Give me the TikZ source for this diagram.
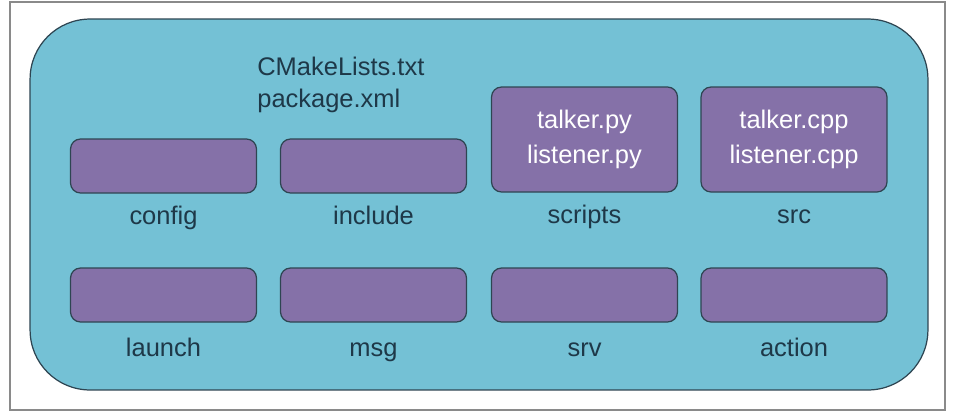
\documentclass[tikz,border=0pt]{standalone}
\usepackage{fontspec}
\setmainfont{Liberation Sans}
\usepackage{tikz}
\usetikzlibrary{positioning}
\definecolor{pkgTeal}{HTML}{74C1D5}
\definecolor{dirPurple}{HTML}{8571A8}
\definecolor{edgeDark}{HTML}{2E4552}
\definecolor{labelDark}{HTML}{1E3848}
\definecolor{frameGray}{HTML}{8A8A8A}

\begin{document}
\begin{tikzpicture}[
    x=0.02cm, y=-0.02cm,
    package/.style={rectangle, rounded corners=1.2cm, minimum width=17.96cm, minimum height=7.42cm,
                    fill=pkgTeal, draw=edgeDark, line width=0.7pt},
    folder/.style={rectangle, rounded corners=0.2cm, minimum width=3.72cm, minimum height=1.08cm,
                   fill=dirPurple, draw=edgeDark, line width=0.7pt},
    srcfolder/.style={folder, minimum height=2.1cm, align=center, text=white,
                      font=\fontsize{14.5}{20}\selectfont},
    dirname/.style={font=\fontsize{14.5}{17}\selectfont, text=labelDark, inner sep=0pt},
    toprow/.style={below=0.62cm of #1.south, anchor=base},
    botrow/.style={below=0.68cm of #1.south, anchor=base}
]
\useasboundingbox (0,0) rectangle (956,414);
\draw[frameGray, line width=1pt, fill=white] (10,2) rectangle (945,410);

\node[package] (pkg) at (479,204.5) {};
\node[dirname, align=left, anchor=north west] (files) at (257,57) {CMakeLists.txt\\[1pt]package.xml};

% first row
\node[folder] (config) at (163.5,166) {};
\node[folder] (include) at (373.5,166) {};
\node[srcfolder] (scripts) at (584.5,139.5) {talker.py\\listener.py};
\node[srcfolder] (src) at (794,139.5) {talker.cpp\\listener.cpp};

% second row
\node[folder] (launch) at (163.5,295) {};
\node[folder] (msg) at (373.5,295) {};
\node[folder] (srv) at (584.5,295) {};
\node[folder] (action) at (794,295) {};

\node[dirname, toprow=config] {config};
\node[dirname, toprow=include] {include};
\node[dirname, toprow=scripts] {scripts};
\node[dirname, toprow=src] {src};
\node[dirname, botrow=launch] {launch};
\node[dirname, botrow=msg] {msg};
\node[dirname, botrow=srv] {srv};
\node[dirname, botrow=action] {action};

\end{tikzpicture}
\end{document}
